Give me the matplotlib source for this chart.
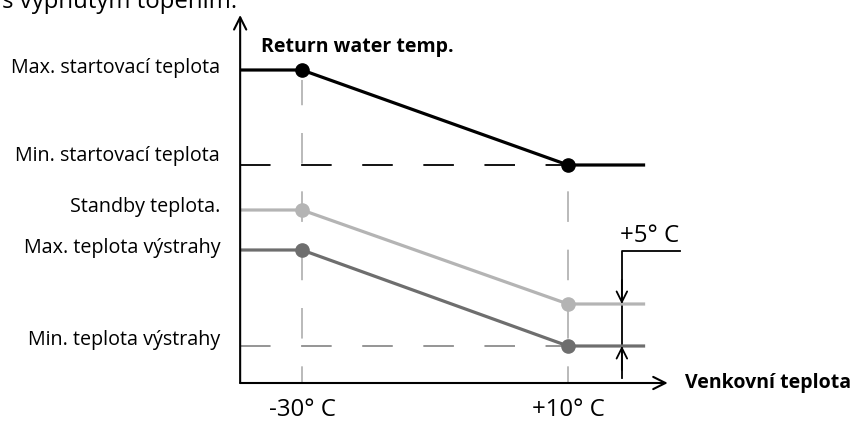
import matplotlib
matplotlib.use('Agg')
import matplotlib.pyplot as plt

# schematic values (x: outdoor temperature in deg C, y: arbitrary level units)
x_breaks = [-30, 10]
x_start = -39.3      # where the axes meet
x_end = 21.6         # end of the drawn lines
x_axis_end = 25.0

return_temp = [78.25, 54.5]     # max / min start temp
standby_temp = [43.25, 19.75]
alarm_temp = [33.25, 9.25]      # max / min alarm temp
y_axis_top = 92.0

left_labels = ['Max. startovací teplota', 'Min. startovací teplota',
               'Standby teplota.', 'Max. teplota výstrahy', 'Min. teplota výstrahy']
left_label_y = [78.8, 56.8, 44.0, 33.8, 10.8]
tick_labels = ['-30° C', '+10° C']

plt.rcParams['font.family'] = ['Open Sans', 'DejaVu Sans']
plt.rcParams['lines.scale_dashes'] = False

fig = plt.figure(figsize=(8.53, 4.22), dpi=100)
ax = fig.add_axes([0, 0, 1, 1])
# 6.65 px per degree, 4 px per level unit
ax.set_xlim(-30 - 302 / 6.65, -30 + (853 - 302) / 6.65)
ax.set_ylim(-(422 - 383) / 4, 383 / 4)
ax.axis('off')

black = '#000000'
light = '#b4b4b4'
dark = '#6e6e6e'
dash = (0, (22, 22))

# guides
ax.plot([x_start, x_breaks[1]], [return_temp[1]] * 2, color=black, lw=1.3, ls=dash)
ax.plot([x_start, x_breaks[1]], [alarm_temp[1]] * 2, color='#8c8c8c', lw=1.3, ls=dash)
ax.plot([x_breaks[0]] * 2, [0, return_temp[0] - 2.5], color=light, lw=1.3, ls=(10, (22, 20)))
ax.plot([x_breaks[1]] * 2, [0, return_temp[1] - 2.5], color=light, lw=1.3, ls=(10, (22, 20)))

for vals, col in [(return_temp, black), (standby_temp, light), (alarm_temp, dark)]:
    xs = [x_start, x_breaks[0], x_breaks[1], x_end]
    ys = [vals[0], vals[0], vals[1], vals[1]]
    ax.plot(xs, ys, color=col, lw=2.3, solid_capstyle='butt', zorder=3)
    ax.plot(x_breaks, vals, 'o', color=col, ms=9.5, zorder=4)

# axes with open arrow heads
arrow = dict(arrowstyle='->', color=black, lw=1.5, mutation_scale=22, shrinkA=0, shrinkB=0)
ax.annotate('', xy=(x_start, y_axis_top), xytext=(x_start, 0), arrowprops=arrow)
ax.annotate('', xy=(x_axis_end, 0), xytext=(x_start, 0), arrowprops=arrow)

# +5 C offset marker
xm = 18.1
ax.plot([xm, xm, 26.8], [1.2, 33.0, 33.0], color=black, lw=1.3)
small = dict(arrowstyle='->', color=black, lw=1.3, mutation_scale=19, shrinkA=0, shrinkB=0)
ax.annotate('', xy=(xm, standby_temp[1]), xytext=(xm, standby_temp[1] + 6), arrowprops=small)
ax.annotate('', xy=(xm, alarm_temp[1]), xytext=(xm, alarm_temp[1] - 6), arrowprops=small)
ax.text(xm - 0.3, 35.3, '+5° C', fontsize=17.3, ha='left', va='baseline')

fs = 14.2
for lab, y in zip(left_labels, left_label_y):
    ax.text(-42.3, y, lab, fontsize=fs, ha='right', va='center')

for xv, lab in zip(x_breaks, tick_labels):
    ax.text(xv, -6.7, lab, fontsize=17.3, ha='center', va='center')

ax.text(-36.1, 84.0, 'Return water temp.', fontsize=14.0, fontweight='bold', va='center')
ax.text(27.6, 0, 'Venkovní teplota', fontsize=14.0, fontweight='bold', va='center')
ax.text(-75.1, 93.7, 's vypnutým topením.', fontsize=17.3, ha='left', va='baseline')

fig.savefig('out.png', dpi=100)
